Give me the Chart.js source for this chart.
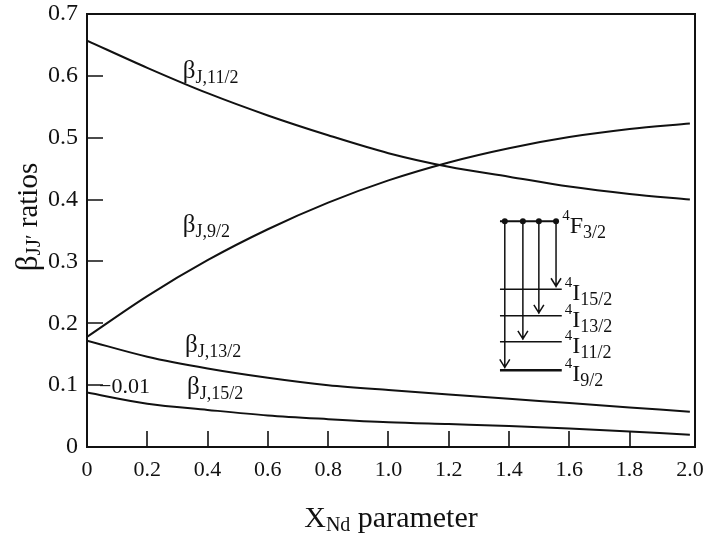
<!DOCTYPE html>
<html>
<head>
<meta charset="utf-8">
<script src="https://cdn.jsdelivr.net/npm/chart.js@4.4.0/dist/chart.umd.min.js"></script>
<style>
  html, body { margin: 0; padding: 0; background: #fff; }
  #wrap { width: 709px; height: 539px; }
</style>
</head>
<body>
<div id="wrap"><canvas id="beta-chart" width="709" height="539"></canvas></div>
<script>
// branching ratios vs X_Nd parameter
const xNd    = [0, 0.2, 0.4, 0.6, 0.8, 1.0, 1.2, 1.4, 1.6, 1.8, 2.0];
const beta11 = [0.657, 0.613, 0.572, 0.536, 0.504, 0.475, 0.453, 0.437, 0.421, 0.409, 0.400];
const beta9  = [0.178, 0.244, 0.302, 0.352, 0.395, 0.431, 0.460, 0.483, 0.501, 0.514, 0.523];
const beta13 = [0.172, 0.146, 0.127, 0.112, 0.100, 0.092, 0.085, 0.078, 0.071, 0.064, 0.057];
const beta15 = [0.088, 0.070, 0.060, 0.051, 0.045, 0.040, 0.037, 0.034, 0.030, 0.025, 0.020];

const xTickValues = [0, 0.2, 0.4, 0.6, 0.8, 1.0, 1.2, 1.4, 1.6, 1.8, 2.0];
const yTickValues = [0, 0.1, 0.2, 0.3, 0.4, 0.5, 0.6, 0.7];

const SERIF = '"Liberation Serif", "Times New Roman", serif';
const INK = '#111';

const toPoints = ys => xNd.map((x, i) => ({ x: x, y: ys[i] }));
const fmt = v => (v === 0 ? '0' : v.toFixed(1));

// draw text pieces one after another on a shared baseline
function richWidth(ctx, parts) {
    let w = 0;
    parts.forEach(p => {
        ctx.font = `${p.size}px ${SERIF}`;
        w += ctx.measureText(p.t).width;
    });
    return w;
}
function drawRich(ctx, x, y, parts) {
    let cx = x;
    parts.forEach(p => {
        ctx.font = `${p.size}px ${SERIF}`;
        ctx.fillText(p.t, cx, y + (p.dy || 0));
        cx += ctx.measureText(p.t).width;
    });
}
const betaLabel = sub => [{ t: 'β', size: 25 }, { t: sub, size: 18, dy: 5 }];

// curve names, placed in data units (left edge / baseline)
const curveLabels = [
    { x: 0.318, y: 0.596, parts: betaLabel('J,11/2') },
    { x: 0.318, y: 0.348, parts: betaLabel('J,9/2') },
    { x: 0.325, y: 0.153, parts: betaLabel('J,13/2') },
    { x: 0.332, y: 0.086, parts: betaLabel('J,15/2') },
    { x: 0.040, y: 0.088, parts: [{ t: '\u22120.01', size: 22 }] }
];

// energy level scheme of Nd3+ (data units)
const levelScheme = {
    x0: 1.37, x1: 1.575,
    top: { y: 0.365, x1: 1.56, name: 'F', sub: '3/2' },
    levels: [
        { y: 0.255, sub: '15/2', arrowX: 1.556 },
        { y: 0.212, sub: '13/2', arrowX: 1.499 },
        { y: 0.170, sub: '11/2', arrowX: 1.446 },
        { y: 0.124, sub: '9/2',  arrowX: 1.386, bold: true }
    ]
};

const decorPlugin = {
    id: 'decor',
    afterDraw(chart) {
        const { ctx, chartArea: a, scales: { x: xs, y: ys } } = chart;
        ctx.save();
        ctx.strokeStyle = INK;
        ctx.fillStyle = INK;

        // frame
        ctx.lineWidth = 2;
        ctx.strokeRect(a.left, a.top, a.right - a.left, a.bottom - a.top);

        // inward tick marks
        ctx.lineWidth = 1.6;
        ctx.beginPath();
        xTickValues.slice(1, -1).forEach(v => {
            const px = Math.round(xs.getPixelForValue(v));
            ctx.moveTo(px, a.bottom);
            ctx.lineTo(px, a.bottom - 16);
        });
        yTickValues.slice(1, -1).forEach(v => {
            const py = Math.round(ys.getPixelForValue(v));
            ctx.moveTo(a.left, py);
            ctx.lineTo(a.left + 16, py);
        });
        ctx.stroke();

        // curve labels
        ctx.textBaseline = 'alphabetic';
        ctx.textAlign = 'left';
        curveLabels.forEach(l => {
            drawRich(ctx, xs.getPixelForValue(l.x), ys.getPixelForValue(l.y), l.parts);
        });

        // level scheme
        const lx0 = xs.getPixelForValue(levelScheme.x0);
        const lx1 = xs.getPixelForValue(levelScheme.x1);
        const topY = ys.getPixelForValue(levelScheme.top.y);
        ctx.lineWidth = 2;
        ctx.beginPath();
        ctx.moveTo(lx0, topY);
        ctx.lineTo(xs.getPixelForValue(levelScheme.top.x1), topY);
        ctx.stroke();
        levelScheme.levels.forEach(l => {
            const py = ys.getPixelForValue(l.y);
            ctx.lineWidth = l.bold ? 2.4 : 1.5;
            ctx.beginPath();
            ctx.moveTo(lx0, py);
            ctx.lineTo(lx1, py);
            ctx.stroke();

            // arrow from the upper level
            const ax = xs.getPixelForValue(l.arrowX);
            ctx.lineWidth = 1.5;
            ctx.beginPath();
            ctx.moveTo(ax, topY);
            ctx.lineTo(ax, py - 2);
            ctx.moveTo(ax - 5, py - 11);
            ctx.lineTo(ax, py - 3);
            ctx.lineTo(ax + 5, py - 11);
            ctx.stroke();
            ctx.beginPath();
            ctx.arc(ax, topY, 3, 0, Math.PI * 2);
            ctx.fill();

            // term symbol
            drawRich(ctx, lx1 + 3, py + 11, [
                { t: '4', size: 15, dy: -13 },
                { t: 'I', size: 24 },
                { t: l.sub, size: 18, dy: 5 }
            ]);
        });
        drawRich(ctx, xs.getPixelForValue(levelScheme.top.x1) + 5, topY + 12, [
            { t: '4', size: 15, dy: -13 },
            { t: levelScheme.top.name, size: 24 },
            { t: levelScheme.top.sub, size: 18, dy: 5 }
        ]);

        // axis titles
        const xTitle = [{ t: 'X', size: 30 }, { t: 'Nd', size: 20, dy: 4 }, { t: ' parameter', size: 30 }];
        const xw = richWidth(ctx, xTitle);
        drawRich(ctx, (a.left + a.right) / 2 - xw / 2, 527, xTitle);

        const yTitle = [{ t: 'β', size: 31 }, { t: 'JJ\u2032', size: 21, dy: 3 }, { t: ' ratios', size: 29 }];
        const yw = richWidth(ctx, yTitle);
        ctx.translate(37, 217);
        ctx.rotate(-Math.PI / 2);
        drawRich(ctx, -yw / 2, 0, yTitle);

        ctx.restore();
    }
};

const lineStyle = {
    borderColor: INK,
    borderWidth: 2,
    pointRadius: 0,
    fill: false,
    cubicInterpolationMode: 'monotone'
};

// keep the plot box fixed regardless of label overhang
const noOverhang = s => {
    s.paddingLeft = 0;
    s.paddingRight = 0;
    s.paddingTop = 0;
    s.paddingBottom = 0;
};

const config = {
    type: 'line',
    data: {
        datasets: [
            { label: 'βJ,11/2', data: toPoints(beta11), ...lineStyle },
            { label: 'βJ,9/2', data: toPoints(beta9), ...lineStyle },
            { label: 'βJ,13/2', data: toPoints(beta13), ...lineStyle },
            { label: 'βJ,15/2', data: toPoints(beta15), ...lineStyle }
        ]
    },
    options: {
        responsive: false,
        animation: false,
        devicePixelRatio: 1,
        layout: { padding: { top: 14, right: 14, left: 0, bottom: 0 } },
        plugins: {
            legend: { display: false },
            tooltip: { enabled: false }
        },
        scales: {
            x: {
                type: 'linear',
                min: 0,
                max: 2.017,
                afterBuildTicks: s => { s.ticks = xTickValues.map(v => ({ value: v })); },
                afterFit: s => { s.height = 92; noOverhang(s); },
                grid: { display: false, drawTicks: false },
                border: { display: false },
                ticks: {
                    padding: 10,
                    autoSkip: false,
                    maxRotation: 0,
                    color: INK,
                    font: { family: SERIF, size: 22 },
                    callback: v => fmt(v)
                }
            },
            y: {
                type: 'linear',
                min: 0,
                max: 0.7,
                afterBuildTicks: s => { s.ticks = yTickValues.map(v => ({ value: v })); },
                afterFit: s => { s.width = 87; noOverhang(s); },
                grid: { display: false, drawTicks: false },
                border: { display: false },
                ticks: {
                    padding: 9,
                    color: INK,
                    font: { family: SERIF, size: 24 },
                    callback: v => fmt(v)
                }
            }
        }
    },
    plugins: [decorPlugin]
};

const betaChart = new Chart(document.getElementById('beta-chart'), config);
</script>
</body>
</html>
